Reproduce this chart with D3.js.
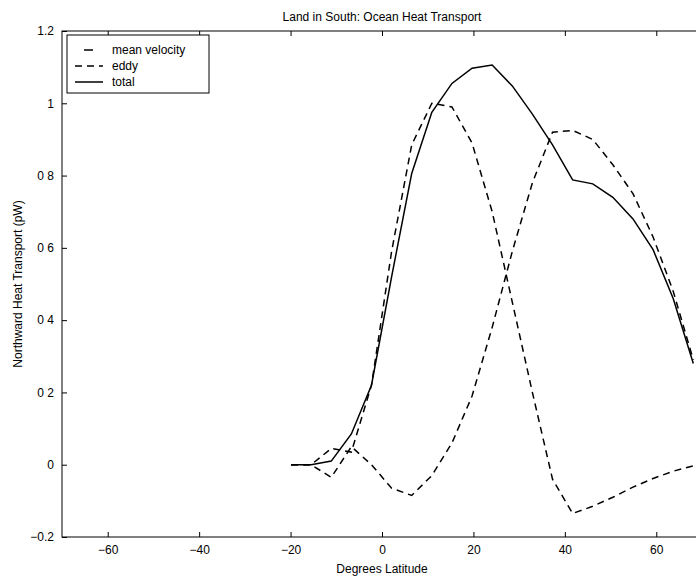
<!DOCTYPE html>
<html>
<head>
<meta charset="utf-8">
<script src="https://cdn.jsdelivr.net/npm/d3@7"></script>
<style>
  body { margin: 0; background: #fff; }
  text { font-family: "Liberation Sans", Arial, sans-serif; fill: #000; }
</style>
</head>
<body>
<div id="chart"></div>
<script>
// latitude grid of the model output (degrees)
const latitudes = [-19.9, -15.5, -11.1, -6.7, -2.3, 2.1, 6.5, 10.9, 15.3, 19.7, 24.1,
    28.5, 32.9, 37.3, 41.7, 46.1, 50.5, 54.9, 59.3, 63.7, 68.1];

// northward heat transport (pW)
const meanVelocity = [0, 0, 0.045, 0.035, 0.22, 0.59, 0.885, 1.0, 0.99, 0.89, 0.7,
    0.45, 0.2, -0.04, -0.135, -0.115, -0.09, -0.062, -0.038, -0.018, -0.003];
const eddy = [0, 0, -0.035, 0.05, 0.0, -0.065, -0.085, -0.03, 0.06, 0.19, 0.38,
    0.59, 0.78, 0.92, 0.925, 0.9, 0.83, 0.75, 0.63, 0.48, 0.29];
const total = [0, 0, 0.01, 0.085, 0.22, 0.52, 0.806, 0.975, 1.055, 1.097, 1.106,
    1.048, 0.97, 0.885, 0.788, 0.777, 0.74, 0.68, 0.595, 0.46, 0.28];

const xTicks = [-60, -40, -20, 0, 20, 40, 60];
const yTicks = [-0.2, 0, 0.2, 0.4, 0.6, 0.8, 1, 1.2];
const yTickLabels = ["-0.2", "0", "0 2", "0 4", "0 6", "0 8", "1", "1.2"];

const seriesNames = ["mean velocity", "eddy", "total"];

const width = 696;
const height = 577;
const margin = { top: 31, right: -6, bottom: 40, left: 62 };

const svg = d3.select("#chart")
    .append("svg")
    .attr("width", width)
    .attr("height", height);

const xScale = d3.scaleLinear()
    .domain([-70, 70])
    .range([margin.left, width - margin.right]);

const yScale = d3.scaleLinear()
    .domain([-0.2, 1.2])
    .range([height - margin.bottom, margin.top]);

// clip to the axes box
svg.append("clipPath")
    .attr("id", "plot-clip")
    .append("rect")
    .attr("x", margin.left)
    .attr("y", margin.top)
    .attr("width", xScale(70) - margin.left)
    .attr("height", yScale(-0.2) - margin.top);

// Bottom axis, ticks point inward
svg.append("g")
    .attr("transform", `translate(0,${yScale(-0.2)})`)
    .call(d3.axisBottom(xScale).tickValues(xTicks).tickSize(-5).tickPadding(8)
        .tickFormat(d => d === 0 ? "0" : d3.format("d")(d).replace("-", "\u2212")))
    .call(g => g.select(".domain").remove())
    .call(g => g.selectAll("text").attr("font-size", "12px"));

// Top axis ticks (no labels)
svg.append("g")
    .attr("transform", `translate(0,${yScale(1.2)})`)
    .call(d3.axisTop(xScale).tickValues(xTicks).tickSize(-5).tickFormat(""))
    .call(g => g.select(".domain").remove());

// Left axis
svg.append("g")
    .attr("transform", `translate(${xScale(-70)},0)`)
    .call(d3.axisLeft(yScale).tickValues(yTicks).tickSize(-5).tickPadding(8)
        .tickFormat((d, i) => yTickLabels[i].replace("-", "\u2212")))
    .call(g => g.select(".domain").remove())
    .call(g => g.selectAll("text").attr("font-size", "12px"));

// Axes box
svg.append("rect")
    .attr("x", xScale(-70))
    .attr("y", yScale(1.2))
    .attr("width", xScale(70) - xScale(-70))
    .attr("height", yScale(-0.2) - yScale(1.2))
    .attr("fill", "none")
    .attr("stroke", "#000")
    .attr("stroke-width", 1);

svg.selectAll(".tick line").attr("stroke", "#000");

// Lines
const line = (values) => d3.line()
    .x((d, i) => xScale(latitudes[i]))
    .y(d => yScale(d))(values);

const plot = svg.append("g").attr("clip-path", "url(#plot-clip)");

plot.append("path")
    .attr("d", line(meanVelocity))
    .attr("fill", "none")
    .attr("stroke", "#000")
    .attr("stroke-width", 1.5)
    .attr("stroke-dasharray", "7,5");

plot.append("path")
    .attr("d", line(eddy))
    .attr("fill", "none")
    .attr("stroke", "#000")
    .attr("stroke-width", 1.5)
    .attr("stroke-dasharray", "7,5");

plot.append("path")
    .attr("d", line(total))
    .attr("fill", "none")
    .attr("stroke", "#000")
    .attr("stroke-width", 1.5);

// Title and axis labels
svg.append("text")
    .attr("x", xScale(0))
    .attr("y", 21)
    .attr("text-anchor", "middle")
    .attr("font-size", "12px")
    .text("Land in South: Ocean Heat Transport");

svg.append("text")
    .attr("x", xScale(0))
    .attr("y", 573)
    .attr("text-anchor", "middle")
    .attr("font-size", "12px")
    .text("Degrees Latitude");

svg.append("text")
    .attr("transform", `translate(22,${(yScale(1.2) + yScale(-0.2)) / 2}) rotate(-90)`)
    .attr("text-anchor", "middle")
    .attr("font-size", "12px")
    .text("Northward Heat Transport (pW)");

// Legend
const legend = svg.append("g").attr("transform", "translate(67,35)");
legend.append("rect")
    .attr("width", 142)
    .attr("height", 58)
    .attr("fill", "#fff")
    .attr("stroke", "#000")
    .attr("stroke-width", 1);

const legendDash = ["9,30", "7,5", null];
const legendOffset = [-9, 0, 0];
seriesNames.forEach((name, i) => {
    const y = 15 + i * 16;
    legend.append("line")
        .attr("x1", 8).attr("x2", 36)
        .attr("y1", y).attr("y2", y)
        .attr("stroke", "#000")
        .attr("stroke-width", 1.5)
        .attr("stroke-dasharray", legendDash[i])
        .attr("stroke-dashoffset", legendOffset[i]);
    legend.append("text")
        .attr("x", 45)
        .attr("y", y + 4)
        .attr("font-size", "12px")
        .text(name);
});
</script>
</body>
</html>
